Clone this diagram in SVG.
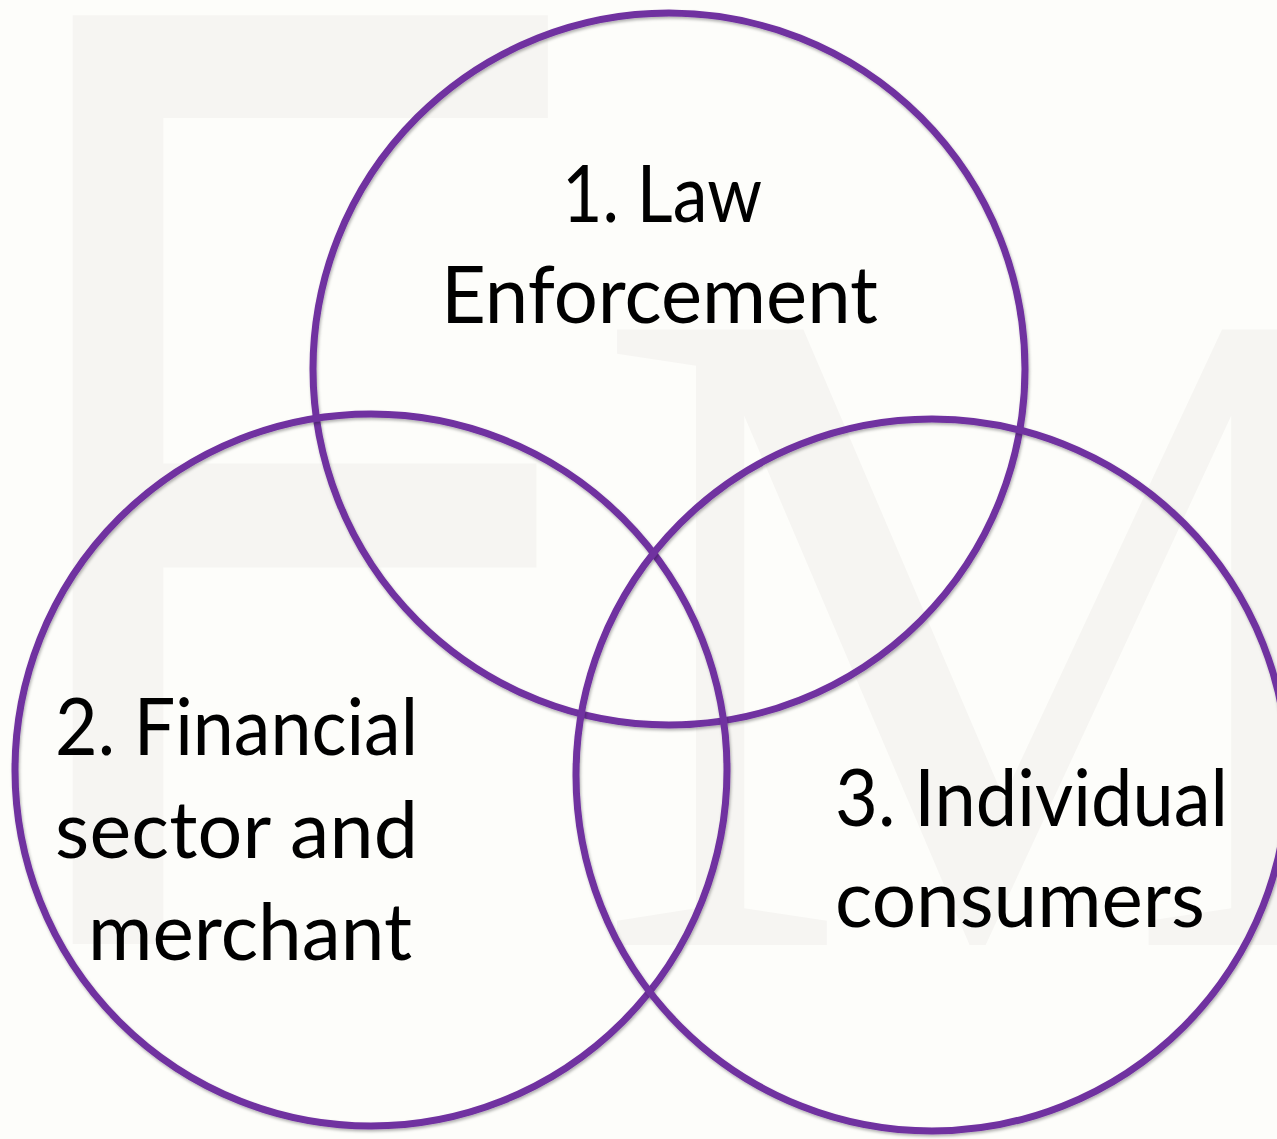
<svg xmlns="http://www.w3.org/2000/svg" width="1277" height="1139" viewBox="0 0 1277 1139">
  <defs>
    <filter id="ringShadow" x="-10%" y="-10%" width="120%" height="120%">
      <feDropShadow dx="1" dy="2" stdDeviation="1.5" flood-color="#000000" flood-opacity="0.3"/>
    </filter>
  </defs>
  <style>
    .bg { fill: #fdfdfa; }
    .mark { fill: #f6f5f2; }
    .ring { fill: none; stroke: #7030a0; stroke-width: 7; filter: url(#ringShadow); }
    .label { font-family: "Lato", "Open Sans", "Liberation Sans", sans-serif; font-size: 79px; fill: #000000; }
  </style>

  <!-- slide background with faint watermark letters -->
  <rect class="bg" x="0" y="0" width="1277" height="1139"/>
  <g id="watermark">
    <text class="mark" transform="translate(-7,944) scale(0.72,1)" font-family="Liberation Sans, sans-serif" font-size="1350">F</text>
    <text class="mark" x="590" y="945" font-family="Liberation Serif, serif" font-size="940">M</text>
  </g>

  <!-- the diagram has no connectors; overlap of the sets carries the meaning -->
  <g id="connectors"></g>

  <g id="node-law-enforcement">
    <circle class="ring" cx="669" cy="369" r="356"/>
    <text class="label" x="562" y="222" textLength="200" lengthAdjust="spacingAndGlyphs">1. Law</text>
    <text class="label" x="441" y="323" textLength="437" lengthAdjust="spacingAndGlyphs">Enforcement</text>
  </g>

  <g id="node-financial-sector">
    <circle class="ring" cx="371" cy="770" r="356"/>
    <text class="label" x="55" y="755" textLength="363" lengthAdjust="spacingAndGlyphs">2. Financial</text>
    <text class="label" x="55" y="858" textLength="363" lengthAdjust="spacing">sector and</text>
    <text class="label" x="88" y="960" textLength="324" lengthAdjust="spacingAndGlyphs">merchant</text>
  </g>

  <g id="node-individual-consumers">
    <circle class="ring" cx="932" cy="775" r="356"/>
    <text class="label" x="835" y="826" textLength="393" lengthAdjust="spacingAndGlyphs">3. Individual</text>
    <text class="label" x="835" y="927" textLength="370" lengthAdjust="spacingAndGlyphs">consumers</text>
  </g>
</svg>
